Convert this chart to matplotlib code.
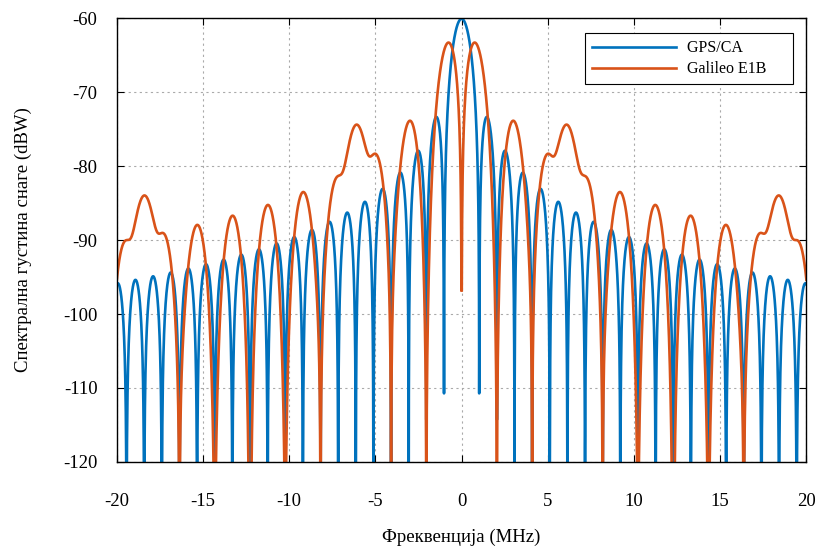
import numpy as np
import matplotlib.pyplot as plt

# ---------------------------------------------------------
# SIGNAL PARAMETERS
# ---------------------------------------------------------

chip_rate = 1.023                    # MHz, GPS C/A and Galileo E1B
boc11_sub = 1.023                    # MHz, BOC(1,1) subcarrier
boc61_sub = 6 * 1.023                # MHz, BOC(6,1) subcarrier
mboc_weights = [10 / 11, 1 / 11]     # BOC(1,1) / BOC(6,1) power split

f_start, f_stop, f_step = -20.0, 20.0, 0.01   # MHz
y_ticks = [-120, -110, -100, -90, -80, -70, -60]
x_ticks = [-20, -15, -10, -5, 0, 5, 10, 15, 20]
labels = ["GPS/CA", "Galileo E1B"]

# ---------------------------------------------------------
# POWER SPECTRAL DENSITIES
# ---------------------------------------------------------

f = np.round(np.arange(f_start, f_stop + f_step / 2, f_step), 6)
tc = 1 / (chip_rate * 1e6)


def boc(freq, fs):
    return tc * (np.tan(np.pi * freq / (2 * fs)) * np.sinc(freq / chip_rate)) ** 2


with np.errstate(divide="ignore"):
    gps = 10 * np.log10(tc * np.sinc(f / chip_rate) ** 2)
    e1b = 10 * np.log10(mboc_weights[0] * boc(f, boc11_sub)
                        + mboc_weights[1] * boc(f, boc61_sub))

# ---------------------------------------------------------
# PLOT
# ---------------------------------------------------------

plt.rcParams["font.family"] = ["Liberation Serif", "DejaVu Serif"]
plt.rcParams["axes.unicode_minus"] = False

fig = plt.figure(figsize=(8.17, 5.48), dpi=100)
ax = fig.add_axes([0.143, 0.157, 0.844, 0.81])

l1, = ax.plot(f, gps, color="#0072BD", lw=1.9)
l2, = ax.plot(f, e1b, color="#D95319", lw=1.9)

ax.set_xlim(-20, 20)
ax.set_ylim(-120, -60)
ax.set_xticks(x_ticks)
ax.set_yticks(y_ticks)
ax.grid(True, linestyle=(0, (2, 3)), color="#aaaaaa", lw=0.8)
ax.tick_params(direction="in", top=True, right=True, labelsize=13.5,
               length=5, width=0.8)
ax.tick_params(axis="x", pad=22)
ax.tick_params(axis="y", pad=14)
for s in ax.spines.values():
    s.set_linewidth(1.0)

ax.set_xlabel("Фреквенција (MHz)", fontsize=13.5, labelpad=14)
ax.set_ylabel("Спектрална густина снаге (dBW)", fontsize=13.5, labelpad=22)

# trailing spaces give the wide right margin of the original legend box
leg = ax.legend([l1, l2], [lab + "     " for lab in labels], loc="upper right",
                bbox_to_anchor=(0.981, 0.966), borderaxespad=0, fontsize=11.5,
                handlelength=5.2, fancybox=False, framealpha=1,
                edgecolor="black", borderpad=0.45, labelspacing=0.3,
                handletextpad=0.7)
leg.get_frame().set_linewidth(0.8)

fig.savefig("out.png", dpi=100)
